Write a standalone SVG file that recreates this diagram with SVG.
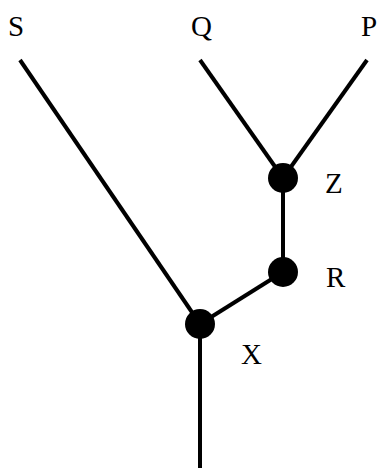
<svg xmlns="http://www.w3.org/2000/svg" width="379" height="468" viewBox="0 0 379 468">
<style>
.e{stroke:#000;stroke-width:4;fill:none;stroke-linecap:butt}
.n{fill:#000}
.t{font-family:"Liberation Serif",serif;font-size:29px;fill:#000}
</style>
<rect width="379" height="468" fill="#fff"/>
<g id="connectors">
<line class="e" x1="20" y1="60" x2="200" y2="324"/>
<line class="e" x1="200" y1="60" x2="283" y2="178"/>
<line class="e" x1="367" y1="60" x2="283" y2="178"/>
<line class="e" x1="283" y1="178" x2="283" y2="272"/>
<line class="e" x1="283" y1="272" x2="200" y2="324"/>
<line class="e" x1="200" y1="324" x2="200" y2="468"/>
</g>
<g id="S"><text class="t" x="8" y="36">S</text></g>
<g id="Q"><text class="t" x="191" y="36">Q</text></g>
<g id="P"><text class="t" x="361" y="36">P</text></g>
<g id="Z"><circle class="n" cx="283" cy="178" r="15"/><text class="t" x="325" y="193">Z</text></g>
<g id="R"><circle class="n" cx="283" cy="272" r="15"/><text class="t" x="326" y="287">R</text></g>
<g id="X"><circle class="n" cx="200" cy="324" r="15"/><text class="t" x="241" y="364">X</text></g>
</svg>
